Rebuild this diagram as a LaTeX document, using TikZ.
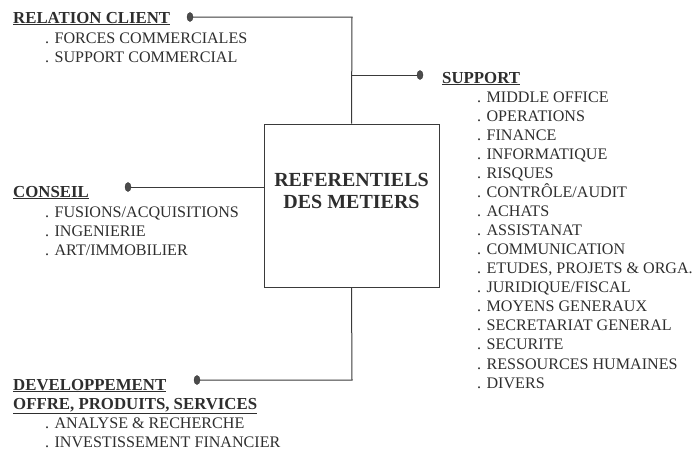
\documentclass[tikz,border=0pt]{standalone}
\usepackage{fontspec}
\setmainfont{Liberation Serif}
\usetikzlibrary{shapes.geometric}
\definecolor{ink}{HTML}{2E2E2E}
\definecolor{wire}{HTML}{3A3A3A}
\begin{document}
\begin{tikzpicture}[x=1pt,y=-1pt,
  txt/.style={anchor=base west,inner sep=0pt,text=ink,font=\fontsize{16.1}{19}\selectfont},
  head/.style={txt,font=\fontsize{16.8}{19}\selectfont\bfseries},
  knob/.style={ellipse,draw=wire,fill=gray!60!black,minimum width=6pt,minimum height=9pt,inner sep=0pt},
  wireline/.style={draw=wire,line width=1pt},
  hub/.style={draw=wire,line width=1pt,minimum width=175pt,minimum height=163pt,inner sep=0pt},
  title/.style={anchor=base,inner sep=0pt,font=\fontsize{20}{22}\selectfont\bfseries,text=ink}]
\useasboundingbox (0,0) rectangle (693,453);
\newcommand{\ul}[1]{\underline{#1}}

% central box and its two title lines
\node[hub] (box) at (351.5,205.5) {};
\node[title] (t1) at (351.5,186) {REFERENTIELS};
\node[title] (t2) at (351.5,208) {DES METIERS};

% connector knobs
\node[knob] (kRel) at (190,17) {};
\node[knob] (kSup) at (420,75) {};
\node[knob] (kCon) at (128,187) {};
\node[knob] (kDev) at (197,380) {};

% junctions on the trunk
\coordinate (jTop) at (352,17);
\coordinate (jSup) at (352,75);
\coordinate (jBot) at (352,380);

\draw[wireline] (kRel) -- (jTop) -- (box.north);
\draw[wireline] (jSup) -- (kSup);
\draw[wireline] (kCon) -- (kCon -| box.west);
\draw[wireline] (box.south) -- (jBot) -- (kDev);

% relation client
\node[head] (hRel) at (13,23) {\ul{RELATION CLIENT}};
\node[txt] (r1) at (45,43) {. FORCES COMMERCIALES};
\node[txt] (r2) at (45,62) {. SUPPORT COMMERCIAL};

% conseil
\node[head] (hCon) at (13,197) {\ul{CONSEIL}};
\node[txt] (c1) at (45,217) {. FUSIONS/ACQUISITIONS};
\node[txt] (c2) at (45,236) {. INGENIERIE};
\node[txt] (c3) at (45,255) {. ART/IMMOBILIER};

% developpement
\node[head] (hDev1) at (13,390) {\ul{DEVELOPPEMENT}};
\node[head] (hDev2) at (13,409) {\ul{OFFRE, PRODUITS, SERVICES}};
\node[txt] (d1) at (45,428) {. ANALYSE \& RECHERCHE};
\node[txt] (d2) at (45,447) {. INVESTISSEMENT FINANCIER};

% support
\node[head] (hSup) at (442,83) {\ul{SUPPORT}};
\foreach \t [count=\i] in {MIDDLE OFFICE,OPERATIONS,FINANCE,INFORMATIQUE,RISQUES,
  CONTRÔLE/AUDIT,ACHATS,ASSISTANAT,COMMUNICATION,{ETUDES, PROJETS \& ORGA.},
  JURIDIQUE/FISCAL,MOYENS GENERAUX,SECRETARIAT GENERAL,SECURITE,
  RESSOURCES HUMAINES,DIVERS}
  \node[txt] (s\i) at (477,{83+19.07*\i}) {. \t};
\end{tikzpicture}
\end{document}
